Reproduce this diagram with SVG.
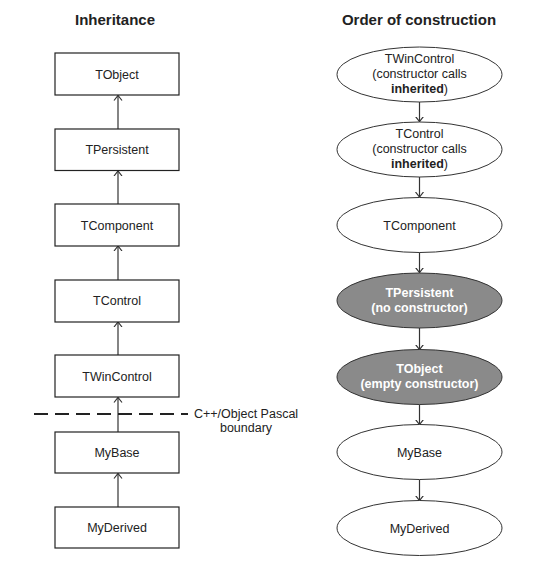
<svg xmlns="http://www.w3.org/2000/svg" width="548" height="566" viewBox="0 0 548 566">
<defs>
<style>
.t{font-family:"Liberation Sans",Arial,sans-serif;font-size:12.5px;fill:#222;text-anchor:middle}
.h{font-family:"Liberation Sans",Arial,sans-serif;font-size:15px;font-weight:bold;fill:#222;text-anchor:middle}
.w{fill:#fff;font-weight:bold}
.b{font-weight:bold}
.box{fill:#fff;stroke:#222;stroke-width:1.2}
.ell{fill:#fff;stroke:#333;stroke-width:1}
.dark{fill:#8a8a8a;stroke:#333;stroke-width:1}
.c{stroke:#333;stroke-width:1.2;fill:none}
</style>
<marker id="a" markerWidth="10" markerHeight="10" refX="5" refY="5" orient="auto" markerUnits="userSpaceOnUse"><path d="M0,1 L5,5 L0,9" fill="none" stroke="#333" stroke-width="1.2"/></marker>
</defs>
<text class="h" x="115" y="25">Inheritance</text>
<text class="h" x="419" y="25">Order of construction</text>

<g id="connectors">
<line class="c" x1="118" y1="129" x2="118" y2="95.5" marker-end="url(#a)"/>
<line class="c" x1="118" y1="204" x2="118" y2="171" marker-end="url(#a)"/>
<line class="c" x1="118" y1="280" x2="118" y2="246" marker-end="url(#a)"/>
<line class="c" x1="118" y1="355" x2="118" y2="322" marker-end="url(#a)"/>
<line class="c" x1="118" y1="432" x2="118" y2="397.5" marker-end="url(#a)"/>
<line class="c" x1="118" y1="507" x2="118" y2="473.5" marker-end="url(#a)"/>
<line class="c" x1="419.5" y1="102" x2="419.5" y2="121.5" marker-end="url(#a)"/>
<line class="c" x1="419.5" y1="177" x2="419.5" y2="197" marker-end="url(#a)"/>
<line class="c" x1="419.5" y1="252" x2="419.5" y2="272.5" marker-end="url(#a)"/>
<line class="c" x1="419.5" y1="327.5" x2="419.5" y2="349.5" marker-end="url(#a)"/>
<line class="c" x1="419.5" y1="404.5" x2="419.5" y2="424.5" marker-end="url(#a)"/>
<line class="c" x1="419.5" y1="479.5" x2="419.5" y2="500.5" marker-end="url(#a)"/>
</g>

<g id="boundary">
<line x1="34" y1="414" x2="188" y2="414" stroke="#222" stroke-width="2" stroke-dasharray="14,7"/>
<text class="t" x="246" y="418">C++/Object Pascal</text>
<text class="t" x="246" y="432">boundary</text>
</g>

<g id="inh-TObject"><rect class="box" x="55" y="53" width="124" height="42"/><text class="t" x="117" y="78.5">TObject</text></g>
<g id="inh-TPersistent"><rect class="box" x="55" y="129" width="124" height="41.5"/><text class="t" x="117" y="154">TPersistent</text></g>
<g id="inh-TComponent"><rect class="box" x="55" y="204" width="124" height="42"/><text class="t" x="117" y="229.5">TComponent</text></g>
<g id="inh-TControl"><rect class="box" x="55" y="280" width="124" height="42"/><text class="t" x="117" y="305">TControl</text></g>
<g id="inh-TWinControl"><rect class="box" x="55" y="355" width="124" height="42"/><text class="t" x="117" y="380.5">TWinControl</text></g>
<g id="inh-MyBase"><rect class="box" x="55" y="432" width="124" height="41"/><text class="t" x="117" y="456.5">MyBase</text></g>
<g id="inh-MyDerived"><rect class="box" x="55" y="507" width="124" height="41"/><text class="t" x="117" y="531.5">MyDerived</text></g>

<g id="ord-TWinControl"><ellipse class="ell" cx="419.5" cy="74.5" rx="82.5" ry="27.5"/><text class="t" x="419.5" y="63">TWinControl</text><text class="t" x="419.5" y="78">(constructor calls</text><text class="t" x="419.5" y="92.5"><tspan class="b">inherited</tspan>)</text></g>
<g id="ord-TControl"><ellipse class="ell" cx="419.5" cy="149.5" rx="82.5" ry="27.5"/><text class="t" x="419.5" y="138">TControl</text><text class="t" x="419.5" y="153">(constructor calls</text><text class="t" x="419.5" y="167.5"><tspan class="b">inherited</tspan>)</text></g>
<g id="ord-TComponent"><ellipse class="ell" cx="419.5" cy="225" rx="82.5" ry="27.5"/><text class="t" x="419.5" y="229.5">TComponent</text></g>
<g id="ord-TPersistent"><ellipse class="dark" cx="419.5" cy="300.5" rx="82.5" ry="27.5"/><text class="t w" x="419.5" y="297">TPersistent</text><text class="t w" x="419.5" y="312">(no constructor)</text></g>
<g id="ord-TObject"><ellipse class="dark" cx="419.5" cy="377" rx="82.5" ry="27.5"/><text class="t w" x="419.5" y="373">TObject</text><text class="t w" x="419.5" y="388">(empty constructor)</text></g>
<g id="ord-MyBase"><ellipse class="ell" cx="419.5" cy="452" rx="82.5" ry="27.5"/><text class="t" x="419.5" y="456.5">MyBase</text></g>
<g id="ord-MyDerived"><ellipse class="ell" cx="419.5" cy="528" rx="82.5" ry="27.5"/><text class="t" x="419.5" y="532.5">MyDerived</text></g>
</svg>
